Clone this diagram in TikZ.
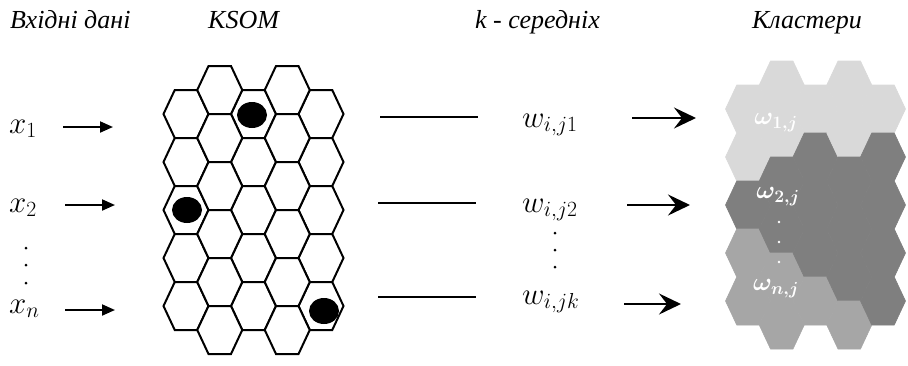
\RequirePackage{fix-cm}
\documentclass[tikz,border=0pt]{standalone}
\usepackage{fontspec}
\setmainfont{Liberation Serif}
\usetikzlibrary{arrows.meta}
\definecolor{clLight}{HTML}{D9D9D9}
\definecolor{clMid}{HTML}{A6A6A6}
\definecolor{clDark}{HTML}{7F7F7F}
\newcommand{\hexat}[3]{\path[#1,shift={(#2,#3)}] (-22.5,0) -- (-11.25,-24) -- (11.25,-24) -- (22.5,0) -- (11.25,24) -- (-11.25,24) -- cycle;}
\tikzset{
  hexcell/.style={draw=black, line width=2pt, line join=miter, fill=white},
  clL/.style={fill=clLight, draw=clLight, line width=0.6pt},
  clM/.style={fill=clMid, draw=clMid, line width=0.6pt},
  clD/.style={fill=clDark, draw=clDark, line width=0.6pt},
  hdr/.style={inner sep=0pt, anchor=base west, font=\fontsize{26}{30}\selectfont\itshape},
  mlbl/.style={inner sep=0pt, anchor=base west, font=\fontsize{31}{34}\selectfont},
  omlbl/.style={inner sep=0pt, text=white, font=\fontsize{25}{28}\selectfont\boldmath},
  inarrow/.style={line width=2pt, -{Triangle[length=13pt,width=11pt]}},
  outarrow/.style={line width=2pt, -{Stealth[length=22pt,width=21pt,inset=8pt]}},
  link/.style={line width=2.2pt},
}
\begin{document}
\begin{tikzpicture}[x=1pt,y=-1pt]
\useasboundingbox (0,0) rectangle (908,365);
% headers
\node[hdr] (h1) at (10,28) {Вхідні дані};
\node[hdr] (h2) at (208,28) {KSOM};
\node[hdr] (h3) at (475,28) {k - середніх};
\node[hdr] (h4) at (752,28) {Кластери};
% inputs
\node[mlbl] (x1) at (9,133) {$x_1$};
\node[mlbl] (x2) at (9,212) {$x_2$};
\node[mlbl] (xn) at (9,313) {$x_n$};
\foreach \yy in {248,265,283} \fill (26,\yy) circle[radius=1.5pt];
\coordinate (a1s) at (63,127); \coordinate (a1e) at (113,127);
\coordinate (a2s) at (65,205); \coordinate (a2e) at (115,205);
\coordinate (a3s) at (65,310); \coordinate (a3e) at (115,310);
\draw[inarrow] (a1s) -- (a1e);
\draw[inarrow] (a2s) -- (a2e);
\draw[inarrow] (a3s) -- (a3e);
% KSOM grid
\foreach \c in {0,2,4} \foreach \r in {0,...,4} {\hexat{hexcell}{186+33.75*\c}{114+48*\r}}
\foreach \c in {1,3} \foreach \r in {0,...,5} {\hexat{hexcell}{186+33.75*\c}{90+48*\r}}
\fill (252,115) ellipse [x radius=15pt, y radius=13pt];
\fill (187,210) ellipse [x radius=15pt, y radius=13pt];
\fill (324,311) ellipse [x radius=15pt, y radius=13pt];
% links
\coordinate (l1s) at (380,117); \coordinate (l1e) at (478,117);
\coordinate (l2s) at (378,203); \coordinate (l2e) at (476,203);
\coordinate (l3s) at (378,297); \coordinate (l3e) at (476,297);
\draw[link] (l1s) -- (l1e);
\draw[link] (l2s) -- (l2e);
\draw[link] (l3s) -- (l3e);
% weights
\node[mlbl] (w1) at (522,127) {$w_{i,j1}$};
\node[mlbl] (w2) at (522,212) {$w_{i,j2}$};
\node[mlbl] (wk) at (522,304) {$w_{i,jk}$};
\foreach \yy in {233,250,267} \fill (555,\yy) circle[radius=1.5pt];
\coordinate (b1s) at (632,118); \coordinate (b1e) at (696,118);
\coordinate (b2s) at (627,205); \coordinate (b2e) at (690,205);
\coordinate (b3s) at (624,304); \coordinate (b3e) at (681,304);
\draw[outarrow] (b1s) -- (b1e);
\draw[outarrow] (b2s) -- (b2e);
\draw[outarrow] (b3s) -- (b3e);
% clusters
\foreach \r/\k in {0/L,1/L,2/D,3/M,4/M} {\hexat{cl\k}{748}{109+48*\r}}
\foreach \r/\k in {0/L,1/L,2/D,3/D,4/M,5/M} {\hexat{cl\k}{781.75}{85+48*\r}}
\foreach \r/\k in {0/L,1/D,2/D,3/D,4/M} {\hexat{cl\k}{815.5}{109+48*\r}}
\foreach \r/\k in {0/L,1/L,2/D,3/D,4/D,5/M} {\hexat{cl\k}{849.25}{85+48*\r}}
\foreach \r/\k in {0/L,1/D,2/D,3/D,4/D} {\hexat{cl\k}{883}{109+48*\r}}
\node[omlbl] (o1) at (776,123) {$\omega_{1,j}$};
\node[omlbl] (o2) at (778,197) {$\omega_{2,j}$};
\node[omlbl] (on) at (776,289) {$\omega_{n,j}$};
\foreach \yy in {222,242,262} \fill[white] (779,\yy) circle[radius=1.3pt];
\end{tikzpicture}
\end{document}
